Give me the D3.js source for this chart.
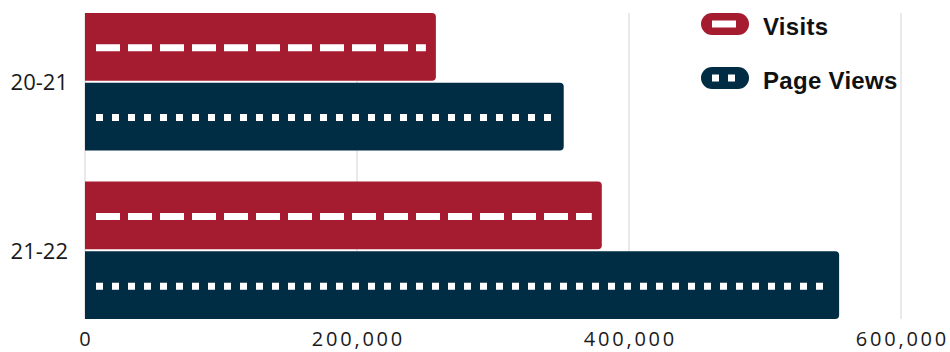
<!DOCTYPE html>
<html>
<head>
<meta charset="utf-8">
<script src="https://cdn.jsdelivr.net/npm/d3@7"></script>
<style>
  body { margin: 0; background: #fff; }
  svg { display: block; }
</style>
</head>
<body>
<svg width="950" height="352"></svg>
<script>
// data
const years = ['20-21', '21-22'];
const series = ['Visits', 'Page Views'];
const visits = [258000, 380000];
const pageViews = [352000, 554500];
const xTicks = [0, 200000, 400000, 600000];

const colors = { 'Visits': '#a51c30', 'Page Views': '#002c44' };
const dashes = { 'Visits': '24 8', 'Page Views': '7 9' };

const rows = years.map((y, i) => ({
  year: y,
  values: [
    { key: 'Visits', value: visits[i] },
    { key: 'Page Views', value: pageViews[i] }
  ]
}));

const svg = d3.select('svg');

const xScale = d3.scaleLinear().domain([0, 600000]).range([85, 901]);
const yScale = d3.scaleBand().domain(years).range([13, 319]).paddingInner(0.1845);
const inner = d3.scaleBand().domain(series).range([0, yScale.bandwidth()]).paddingInner(0.03);

// grid lines
svg.append('g')
  .selectAll('line')
  .data(xTicks)
  .enter()
  .append('line')
  .attr('x1', d => xScale(d)).attr('x2', d => xScale(d))
  .attr('y1', 13).attr('y2', 319)
  .attr('stroke', '#d4d4d4')
  .attr('stroke-width', 1);

// bars with rounded right end
function barPath(x0, x1, y, h, r) {
  return `M${x0},${y}H${x1 - r}Q${x1},${y} ${x1},${y + r}V${y + h - r}Q${x1},${y + h} ${x1 - r},${y + h}H${x0}Z`;
}

const groups = svg.selectAll('.grp')
  .data(rows)
  .enter()
  .append('g')
  .classed('grp', true)
  .attr('transform', d => `translate(0,${yScale(d.year)})`);

groups.selectAll('path')
  .data(d => d.values)
  .enter()
  .append('path')
  .attr('d', d => barPath(xScale(0), xScale(d.value), inner(d.key), inner.bandwidth(), 4))
  .attr('fill', d => colors[d.key]);

// white dash / dot pattern inside each bar
groups.selectAll('.pat')
  .data(d => d.values)
  .enter()
  .append('line')
  .classed('pat', true)
  .attr('x1', xScale(0) + 11)
  .attr('x2', d => xScale(d.value) - 10)
  .attr('y1', d => inner(d.key) + inner.bandwidth() / 2 + 1)
  .attr('y2', d => inner(d.key) + inner.bandwidth() / 2 + 1)
  .attr('stroke', '#fff')
  .attr('stroke-width', 7)
  .attr('stroke-dasharray', d => dashes[d.key]);

// y labels
svg.append('g')
  .selectAll('text')
  .data(years)
  .enter()
  .append('text')
  .attr('x', 68)
  .attr('y', d => yScale(d) + yScale.bandwidth() / 2 + 1)
  .attr('dy', '0.35em')
  .attr('text-anchor', 'end')
  .style('font-family', '"Open Sans", sans-serif')
  .style('font-size', '22px')
  .attr('fill', '#1a1a1a')
  .text(d => d);

// x labels (extra spacing to match the wide look of the original)
svg.append('g')
  .selectAll('text')
  .data(xTicks)
  .enter()
  .append('text')
  .attr('x', d => xScale(d) + 1.4)
  .attr('y', 346)
  .attr('text-anchor', 'middle')
  .style('font-family', '"Open Sans", sans-serif')
  .style('font-size', '20px')
  .style('letter-spacing', '2.8px')
  .attr('fill', '#1a1a1a')
  .text(d => d3.format(',')(d));

// legend
const legend = svg.append('g')
  .selectAll('g')
  .data(series)
  .enter()
  .append('g')
  .attr('transform', (d, i) => `translate(701,${13 + i * 54})`);

legend.append('rect')
  .attr('width', 48).attr('height', 22).attr('rx', 11)
  .attr('fill', d => colors[d]);

legend.append('line')
  .attr('x1', 11).attr('x2', d => d === 'Visits' ? 35 : 37)
  .attr('y1', 11).attr('y2', 11)
  .attr('stroke', '#fff')
  .attr('stroke-width', 7)
  .attr('stroke-dasharray', d => dashes[d]);

legend.append('text')
  .attr('x', 62)
  .attr('y', 22)
  .style('font-family', '"Liberation Sans", Arial, sans-serif')
  .style('font-weight', 'bold')
  .style('font-size', '24px')
  .style('letter-spacing', '0.3px')
  .attr('fill', '#111')
  .text(d => d);
</script>
</body>
</html>
